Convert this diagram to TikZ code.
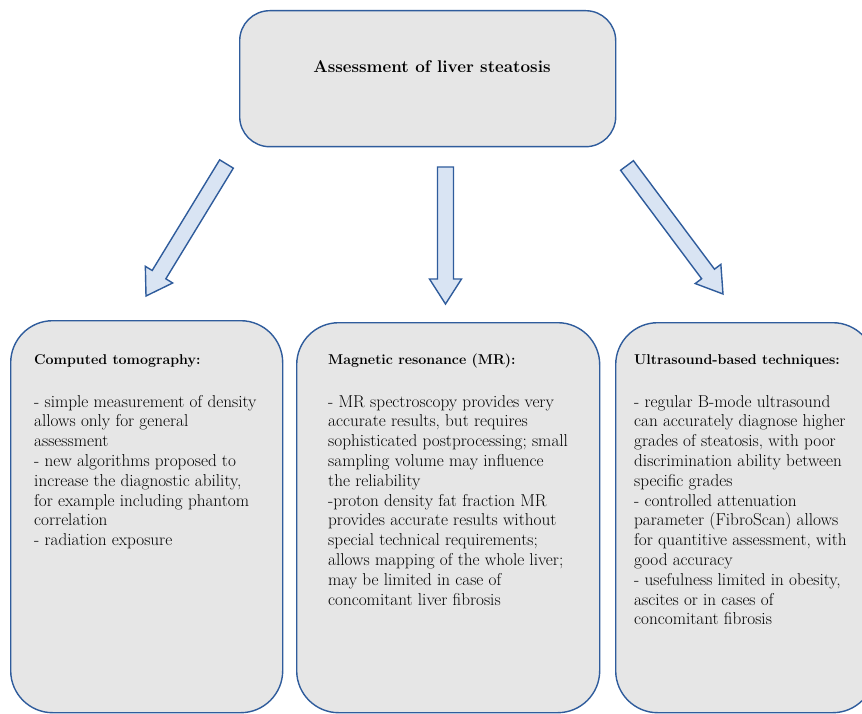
\documentclass[tikz,border=0pt]{standalone}
\usepackage{fontspec}
\usetikzlibrary{calc}
\definecolor{boxblue}{HTML}{2F5C9C}
\definecolor{boxgray}{HTML}{E6E6E6}
\definecolor{arrfill}{HTML}{D9E4F3}
\tikzset{
  roundbox/.style={draw=boxblue, fill=boxgray, line width=1.4pt, rounded corners=#1, inner sep=0pt, anchor=north west},
  blockarr/.style={draw=boxblue, fill=arrfill, line width=1.4pt, line join=miter},
  titletext/.style={font={\fontsize{17}{20}\selectfont\bfseries}, inner sep=0pt},
  headtext/.style={font={\fontsize{14.2}{20}\selectfont\bfseries}, inner sep=0pt, anchor=base west},
  bodytext/.style={font={\fontsize{17.2}{19.8}\selectfont}, inner sep=0pt, anchor=base west},
}
\newcommand\blockarrow[2]{%
  \draw[blockarr]
    ($(#1)!8pt!90:(#2)$) --
    ($($(#2)!25pt!(#1)$)!8pt!90:(#2)$) --
    ($($(#2)!25pt!(#1)$)!16pt!90:(#2)$) --
    (#2) --
    ($($(#2)!25pt!(#1)$)!16pt!-90:(#2)$) --
    ($($(#2)!25pt!(#1)$)!8pt!-90:(#2)$) --
    ($(#1)!8pt!-90:(#2)$) -- cycle;}
\newcommand\lines[1]{\begin{tabular}[t]{@{}l@{}}#1\end{tabular}}
\begin{document}
\begin{tikzpicture}[x=1pt, y=-1pt]
  \clip (0,0) rectangle (862,714);
  \fill[white] (0,0) rectangle (862,714);
  % top box
  \node[roundbox=30pt, minimum width=376pt, minimum height=136pt] (top) at (239,10) {};
  \node[titletext] (title) at (432,67) {Assessment of liver steatosis};
  % bottom boxes
  \node[roundbox=42pt, minimum width=272pt, minimum height=392pt] (ct) at (10,320) {};
  \node[roundbox=42pt, minimum width=303pt, minimum height=390pt] (mr) at (296,322) {};
  \node[roundbox=42pt, minimum width=259pt, minimum height=390pt] (us) at (615,322) {};
  % arrows
  \coordinate (a1t) at (226.5,164);
  \coordinate (a1h) at (146,296);
  \coordinate (a2t) at (445.5,167);
  \coordinate (a2h) at (445.5,304);
  \coordinate (a3t) at (627,165.5);
  \coordinate (a3h) at (723,294);
  \blockarrow{a1t}{a1h}
  \blockarrow{a2t}{a2h}
  \blockarrow{a3t}{a3h}
  % texts
  \node[headtext] (cth) at (34,364) {Computed tomography:};
  \node[bodytext] (ctb) at (34,407) {\lines{- simple measurement of density\\
allows only for general\\
assessment\\
- new algorithms proposed to\\
increase the diagnostic ability,\\
for example including phantom\\
correlation\\
- radiation exposure}};
  \node[headtext] (mrh) at (328,364) {Magnetic resonance (MR):};
  \node[bodytext] (mrb) at (328,407) {\lines{- MR spectroscopy provides very\\
accurate results, but requires\\
sophisticated postprocessing; small\\
sampling volume may influence\\
the reliability\\
-proton density fat fraction MR\\
provides accurate results without\\
special technical requirements;\\
allows mapping of the whole liver;\\
may be limited in case of\\
concomitant liver fibrosis}};
  \node[headtext] (ush) at (634,364) {Ultrasound-based techniques:};
  \node[bodytext] (usb) at (634,407) {\lines{- regular B-mode ultrasound\\
can accurately diagnose higher\\
grades of steatosis, with poor\\
discrimination ability between\\
specific grades\\
- controlled attenuation\\
parameter (FibroScan) allows\\
for quantitive assessment, with\\
good accuracy\\
- usefulness limited in obesity,\\
ascites or in cases of\\
concomitant fibrosis}};
\end{tikzpicture}
\end{document}
